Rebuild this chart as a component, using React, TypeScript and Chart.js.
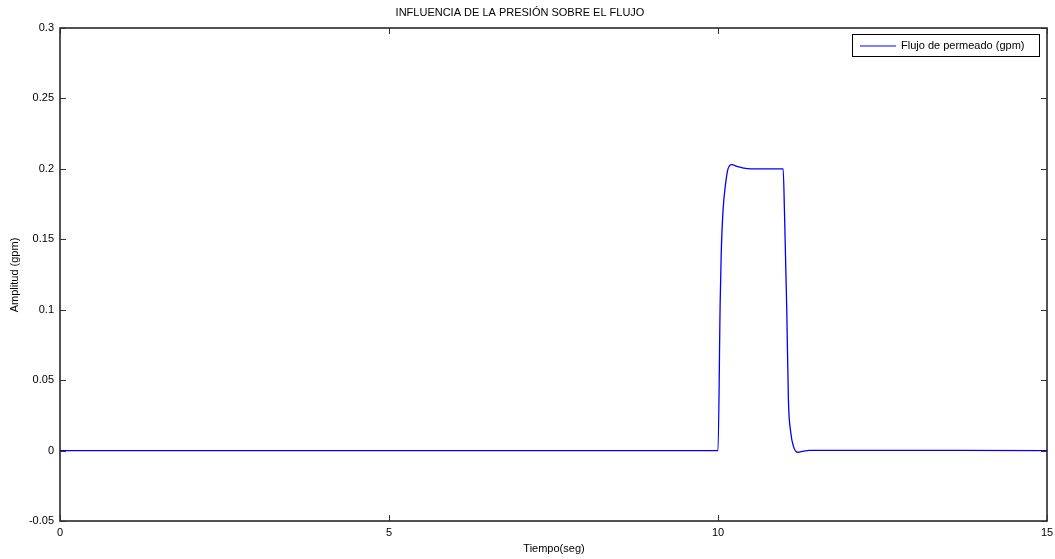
import React, { useEffect, useRef } from "react";
import { Chart, registerables } from "chart.js";

Chart.register(...registerables);

const chartTitle = "INFLUENCIA DE LA PRESIÓN SOBRE EL FLUJO";
const xAxisTitle = "Tiempo(seg)";
const yAxisTitle = "Amplitud (gpm)";
const seriesLabel = "Flujo de permeado (gpm)";

const times = [0, 10, 10.033, 10.049, 10.076, 10.117, 10.152, 10.208, 10.3, 10.39, 10.5, 10.99, 11.01, 11.03, 11.045, 11.07, 11.106, 11.147, 11.208, 11.3, 11.384, 15];
const flow = [0, 0, 0.105, 0.14, 0.17, 0.19, 0.2, 0.203, 0.2015, 0.2005, 0.2, 0.2, 0.17, 0.13, 0.1, 0.036, 0.0128, 0.003, -0.0012, -0.0004, 0.0002, 0];

const xTicks = [0, 5, 10, 15];
const xTickLabels = ["0", "5", "10", "15"];
const yTicks = [-0.05, 0, 0.05, 0.1, 0.15, 0.2, 0.25, 0.3];
const yTickLabels = ["-0.05", "0", "0.05", "0.1", "0.15", "0.2", "0.25", "0.3"];

const FONT = "11px 'Liberation Sans', Arial, sans-serif";

const decorPlugin = {
  id: "matlabDecor",
  afterDraw(chart: any) {
    const { ctx, chartArea } = chart;
    const { left, right, top, bottom } = chartArea;
    const xs = chart.scales.x;
    const ys = chart.scales.y;
    ctx.save();
    // frame
    ctx.strokeStyle = "#1a1a1a";
    ctx.lineWidth = 1.5;
    ctx.strokeRect(left, top, right - left, bottom - top);
    // inside ticks
    ctx.lineWidth = 1;
    ctx.strokeStyle = "#333";
    const tl = 6;
    xTicks.forEach((v) => {
      const px = Math.round(xs.getPixelForValue(v)) + 0.5;
      ctx.beginPath();
      ctx.moveTo(px, bottom);
      ctx.lineTo(px, bottom - tl);
      ctx.moveTo(px, top);
      ctx.lineTo(px, top + tl);
      ctx.stroke();
    });
    yTicks.forEach((v) => {
      const py = Math.round(ys.getPixelForValue(v)) + 0.5;
      ctx.beginPath();
      ctx.moveTo(left, py);
      ctx.lineTo(left + tl, py);
      ctx.moveTo(right, py);
      ctx.lineTo(right - tl, py);
      ctx.stroke();
    });
    ctx.fillStyle = "#000";
    ctx.font = FONT;
    // tick labels
    ctx.textAlign = "center";
    ctx.textBaseline = "middle";
    xTicks.forEach((v, i) => {
      ctx.fillText(xTickLabels[i], xs.getPixelForValue(v), bottom + 12);
    });
    ctx.textAlign = "right";
    yTicks.forEach((v, i) => {
      ctx.fillText(yTickLabels[i], left - 6, ys.getPixelForValue(v));
    });
    // title
    ctx.textAlign = "center";
    ctx.fillText(chartTitle, 520, 13);
    // x axis title
    ctx.fillText(xAxisTitle, 554, 549);
    // y axis title
    ctx.save();
    ctx.translate(15, 275);
    ctx.rotate(-Math.PI / 2);
    ctx.fillText(yAxisTitle, 0, 0);
    ctx.restore();
    // legend
    const bx = 852.5, by = 34.5, bw = 187, bh = 22;
    ctx.fillStyle = "#fff";
    ctx.fillRect(bx, by, bw, bh);
    ctx.strokeStyle = "#000";
    ctx.lineWidth = 1;
    ctx.strokeRect(bx, by, bw, bh);
    ctx.strokeStyle = "#0000ff";
    ctx.beginPath();
    ctx.moveTo(860, 46);
    ctx.lineTo(896, 46);
    ctx.stroke();
    ctx.fillStyle = "#000";
    ctx.textAlign = "left";
    ctx.fillText(seriesLabel, 901, 46);
    ctx.restore();
  },
};

export default function App() {
  const ref = useRef<HTMLCanvasElement | null>(null);
  useEffect(() => {
    if (!ref.current) return;
    const chart = new Chart(ref.current, {
      type: "line",
      data: {
        datasets: [
          {
            label: seriesLabel,
            data: times.map((t, i) => ({ x: t, y: flow[i] })),
            borderColor: "#0000ff",
            borderWidth: 1.3,
            pointRadius: 0,
            cubicInterpolationMode: "monotone",
            fill: false,
          },
        ],
      },
      options: {
        animation: false,
        responsive: false,
        layout: { padding: { top: 28, left: 0, right: 8, bottom: 0 } },
        plugins: {
          legend: { display: false },
          title: { display: false },
          tooltip: { enabled: false },
        },
        scales: {
          x: {
            type: "linear",
            min: 0,
            max: 15,
            afterBuildTicks: (s: any) => {
              s.ticks = xTicks.map((v) => ({ value: v }));
            },
            afterFit: (s: any) => {
              s.height = 38;
            },
            grid: { display: false, drawTicks: false },
            border: { display: false },
            ticks: { display: false },
          },
          y: {
            type: "linear",
            min: -0.05,
            max: 0.3,
            afterBuildTicks: (s: any) => {
              s.ticks = yTicks.map((v) => ({ value: v }));
            },
            afterFit: (s: any) => {
              s.width = 60;
            },
            grid: { display: false, drawTicks: false },
            border: { display: false },
            ticks: { display: false },
          },
        },
      },
      plugins: [decorPlugin],
    });
    return () => chart.destroy();
  }, []);
  return (
    <div style={{ position: "absolute", left: 0, top: 0, width: 1055, height: 559, background: "#fff" }}>
      <canvas ref={ref} width={1055} height={559} style={{ display: "block" }} />
    </div>
  );
}
